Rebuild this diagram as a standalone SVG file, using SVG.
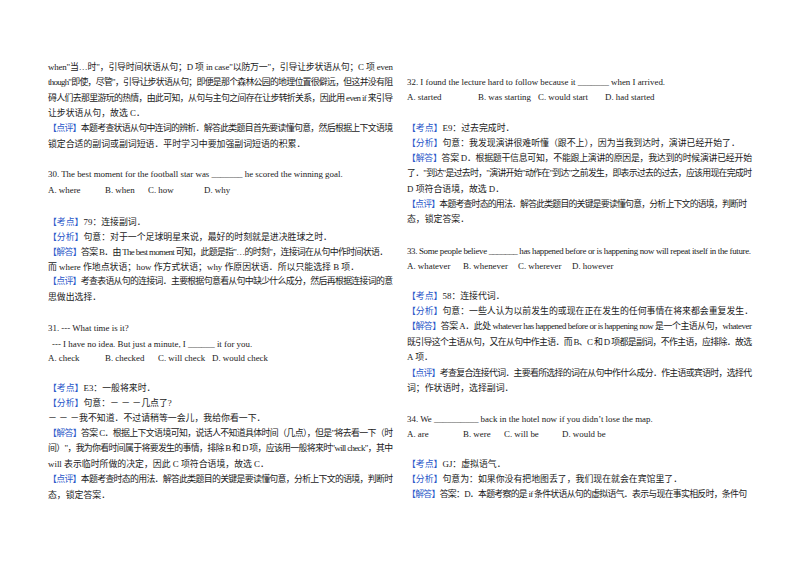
<svg xmlns="http://www.w3.org/2000/svg" width="800" height="565" viewBox="0 0 800 565">
<style>
text{font-family:"Liberation Serif","Noto Sans CJK SC",serif;font-size:8.9px;fill:#1a1a1a}
.b{fill:#2b58c9}
</style>
<rect width="800" height="565" fill="#fff"/>
<g id="left">
<text x="48" y="70" textLength="345" lengthAdjust="spacing">when"当…时"，引导时间状语从句；D 项 in case"以防万一"，引导让步状语从句；C 项 even</text>
<text x="48" y="85" textLength="345" lengthAdjust="spacing">though"即使，尽管"，引导让步状语从句；即便是那个森林公园的地理位置很僻远，但这并没有阻</text>
<text x="48" y="101" textLength="345" lengthAdjust="spacing">碍人们去那里游玩的热情，由此可知，从句与主句之间存在让步转折关系，因此用 even if 来引导</text>
<text x="48" y="116">让步状语从句，故选 C．</text>
<text x="48" y="131" textLength="345" lengthAdjust="spacing"><tspan class="b">【点评】</tspan>本题考查状语从句中连词的辨析．解答此类题目首先要读懂句意，然后根据上下文语境</text>
<text x="48" y="147">锁定合适的副词或副词短语．平时学习中要加强副词短语的积累．</text>
<text x="48" y="177">30. The best moment for the football star was _______ he scored the winning goal.</text>
<text x="48" y="193">A. where</text><text x="105" y="193">B. when</text><text x="148" y="193">C. how</text><text x="204" y="193">D. why</text>
<text x="48" y="225"><tspan class="b">【考点】</tspan>79：连接副词．</text>
<text x="48" y="240"><tspan class="b">【分析】</tspan>句意：对于一个足球明星来说，最好的时刻就是进决胜球之时．</text>
<text x="48" y="255" textLength="340" lengthAdjust="spacing"><tspan class="b">【解答】</tspan>答案 B．由 The best moment 可知，此题是指"…的时刻"，连接词在从句中作时间状语．</text>
<text x="48" y="270">而 where 作地点状语；how 作方式状语；why 作原因状语．所以只能选择 B 项．</text>
<text x="48" y="284" textLength="345" lengthAdjust="spacing"><tspan class="b">【点评】</tspan>考查表语从句的连接词．主要根据句意看从句中缺少什么成分，然后再根据连接词的意</text>
<text x="48" y="300">思做出选择．</text>
<text x="48" y="331">31. --- What time is it?</text>
<text x="52" y="347">--- I have no idea. But just a minute, I ______ it for you.</text>
<text x="48" y="361">A. check</text><text x="105" y="361">B. checked</text><text x="158" y="361">C. will check</text><text x="212" y="361">D. would check</text>
<text x="48" y="391"><tspan class="b">【考点】</tspan>E3：一般将来时．</text>
<text x="48" y="406"><tspan class="b">【分析】</tspan>句意：－ － －几点了?</text>
<text x="48" y="421">－ － －我不知道．不过请稍等一会儿，我给你看一下．</text>
<text x="48" y="436" textLength="345" lengthAdjust="spacing"><tspan class="b">【解答】</tspan>答案 C．根据上下文语境可知，说话人不知道具体时间（几点），但是"将去看一下（时</text>
<text x="48" y="451" textLength="345" lengthAdjust="spacing">间）"，我为你看时间属于将要发生的事情，排除 B 和 D 项，应该用一般将来时"will check"，其中</text>
<text x="48" y="467">will 表示临时所做的决定，因此 C 项符合语境，故选 C．</text>
<text x="48" y="482" textLength="345" lengthAdjust="spacing"><tspan class="b">【点评】</tspan>本题考查时态的用法．解答此类题目的关键是要读懂句意，分析上下文的语境，判断时</text>
<text x="48" y="498">态，锁定答案．</text>
</g>
<g id="right">
<text x="407" y="85">32. I found the lecture hard to follow because it _______ when I arrived.</text>
<text x="407" y="100">A. started</text><text x="478" y="100">B. was starting</text><text x="538" y="100">C. would start</text><text x="605" y="100">D. had started</text>
<text x="407" y="131"><tspan class="b">【考点】</tspan>E9：过去完成时．</text>
<text x="407" y="146"><tspan class="b">【分析】</tspan>句意：我发现演讲很难听懂（跟不上），因为当我到达时，演讲已经开始了．</text>
<text x="407" y="161" textLength="345" lengthAdjust="spacing"><tspan class="b">【解答】</tspan>答案 D．根据题干信息可知，不能跟上演讲的原因是，我达到的时候演讲已经开始</text>
<text x="407" y="176" textLength="345" lengthAdjust="spacing">了．"到达"是过去时，"演讲开始"动作在"到达"之前发生，即表示过去的过去，应该用现在完成时</text>
<text x="407" y="192">D 项符合语境，故选 D．</text>
<text x="407" y="207" textLength="340" lengthAdjust="spacing"><tspan class="b">【点评】</tspan>本题考查时态的用法．解答此类题目的关键是要读懂句意，分析上下文的语境，判断时</text>
<text x="407" y="222">态，锁定答案．</text>
<text x="407" y="254" textLength="344" lengthAdjust="spacing">33. Some people believe _______ has happened before or is happening now will repeat itself in the future.</text>
<text x="407" y="269">A. whatever</text><text x="463" y="269">B. whenever</text><text x="518" y="269">C. wherever</text><text x="572" y="269">D. however</text>
<text x="407" y="299"><tspan class="b">【考点】</tspan>58：连接代词．</text>
<text x="407" y="314"><tspan class="b">【分析】</tspan>句意：一些人认为以前发生的或现在正在发生的任何事情在将来都会重复发生．</text>
<text x="407" y="329" textLength="345" lengthAdjust="spacing"><tspan class="b">【解答】</tspan>答案 A．此处 whatever has happened before or is happening now 是一个主语从句，whatever</text>
<text x="407" y="345" textLength="345" lengthAdjust="spacing">既引导这个主语从句，又在从句中作主语．而 B、C 和 D 项都是副词，不作主语，应排除．故选</text>
<text x="407" y="360">A 项．</text>
<text x="407" y="376" textLength="345" lengthAdjust="spacing"><tspan class="b">【点评】</tspan>考查复合连接代词．主要看所选择的词在从句中作什么成分．作主语或宾语时，选择代</text>
<text x="407" y="391">词；作状语时，选择副词．</text>
<text x="407" y="422">34. We __________  back in the hotel now if you didn’t lose the map.</text>
<text x="407" y="437">A. are</text><text x="463" y="437">B. were</text><text x="504" y="437">C. will be</text><text x="562" y="437">D. would be</text>
<text x="407" y="467"><tspan class="b">【考点】</tspan>GJ：虚拟语气．</text>
<text x="407" y="482"><tspan class="b">【分析】</tspan>句意为：如果你没有把地图丢了，我们现在就会在宾馆里了．</text>
<text x="407" y="497" textLength="340" lengthAdjust="spacing"><tspan class="b">【解答】</tspan>答案：D．本题考察的是 if 条件状语从句的虚拟语气．表示与现在事实相反时，条件句</text>
</g>
</svg>
